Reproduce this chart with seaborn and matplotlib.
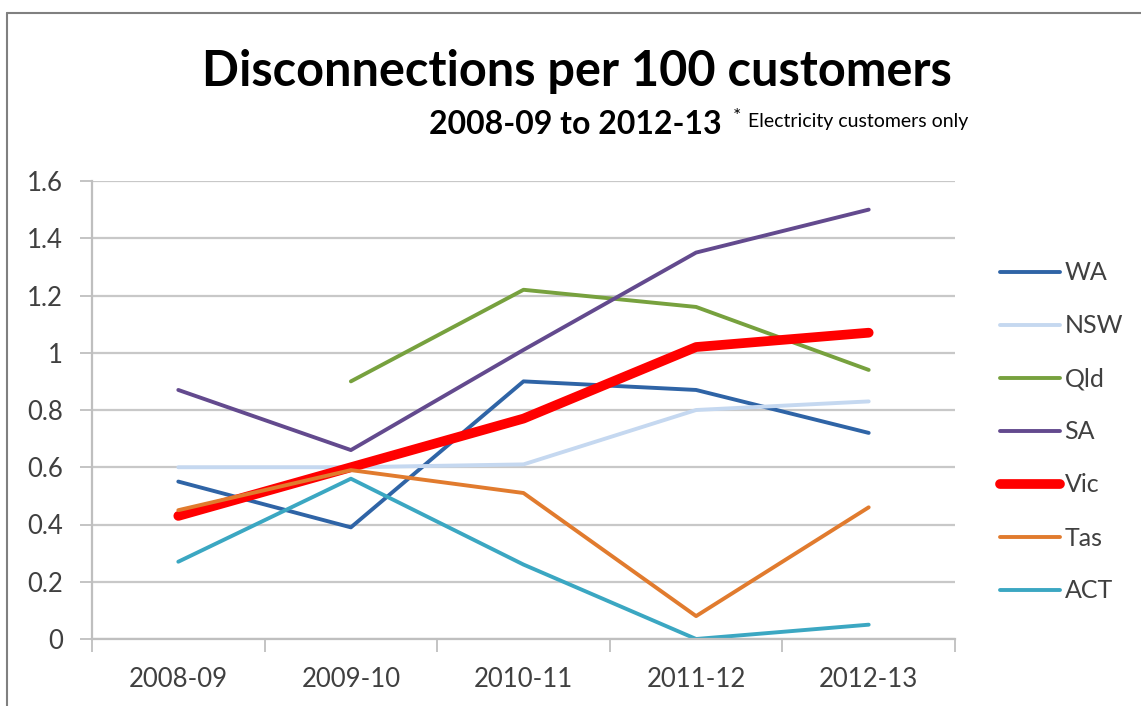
import numpy as np
import pandas as pd
import matplotlib
matplotlib.use("Agg")
import matplotlib.pyplot as plt
from matplotlib.lines import Line2D
import seaborn as sns

years = ["2008-09", "2009-10", "2010-11", "2011-12", "2012-13"]
wa = [0.55, 0.39, 0.90, 0.87, 0.72]
nsw = [0.60, 0.60, 0.61, 0.80, 0.83]
qld = [np.nan, 0.90, 1.22, 1.16, 0.94]
sa = [0.87, 0.66, 1.01, 1.35, 1.50]
vic = [0.43, 0.60, 0.77, 1.02, 1.07]
tas = [0.45, 0.59, 0.51, 0.08, 0.46]
act = [0.27, 0.56, 0.26, 0.00, 0.05]
states = ["WA", "NSW", "Qld", "SA", "Vic", "Tas", "ACT"]
series = [wa, nsw, qld, sa, vic, tas, act]
yticks = [0, 0.2, 0.4, 0.6, 0.8, 1, 1.2, 1.4, 1.6]
ytick_labels = ["0", "0.2", "0.4", "0.6", "0.8", "1", "1.2", "1.4", "1.6"]

colors = {"WA": "#2F64A6", "NSW": "#C5D8F0", "Qld": "#77A13E", "SA": "#634A8E",
          "Vic": "#FF0000", "Tas": "#E17B2E", "ACT": "#3BA7C2"}
widths = {s: 2.8 for s in states}
widths["Vic"] = 7.0

rows = []
for s, vals in zip(states, series):
    for y, v in zip(years, vals):
        rows.append({"Year": y, "Value": v, "State": s})
df = pd.DataFrame(rows)

sns.set_theme(style="white")
plt.rcParams["font.family"] = ["Lato", "DejaVu Sans"]

fig = plt.figure(figsize=(11.41, 7.06), dpi=100)
ax = fig.add_axes([92 / 1141, 1 - 639 / 706, (955 - 92) / 1141, (639 - 181) / 706])

for s in states:
    sub = df[df["State"] == s].dropna()
    sns.lineplot(data=sub, x="Year", y="Value", ax=ax, color=colors[s],
                 linewidth=widths[s], sort=False, label=s,
                 solid_capstyle="round", solid_joinstyle="round")

ax.set_xlim(-0.5, 4.5)
ax.set_ylim(0, 1.6)
ax.set_yticks(yticks)
ax.set_yticklabels(ytick_labels)
ax.set_xticks(range(len(years)))
ax.set_xticklabels(years)
ax.set_xticks(np.arange(-0.5, 4.6, 1), minor=True)
ax.tick_params(axis="x", which="major", length=0, pad=20, labelsize=18.5, labelcolor="#404040")
ax.tick_params(axis="x", which="minor", length=9, width=1.3, color="#BFBFBF", direction="out", bottom=True)
ax.tick_params(axis="y", which="major", length=9, width=1.3, color="#BFBFBF", direction="out",
               left=True, pad=12, labelsize=18.5, labelcolor="#404040")
ax.set_xlabel("")
ax.set_ylabel("")
ax.grid(axis="y", color="#C8C8C8", linewidth=1.6)
ax.grid(axis="x", visible=False)
for side in ["top", "right"]:
    ax.spines[side].set_visible(False)
for side in ["left", "bottom"]:
    ax.spines[side].set_color("#BFBFBF")
    ax.spines[side].set_linewidth(1.6)

leg = ax.legend(loc="upper left", bbox_to_anchor=(977 / 1141, 1 - 239 / 706),
                bbox_transform=fig.transFigure, frameon=False, fontsize=18,
                handlelength=2.4, handletextpad=0.2, labelspacing=1.2)
for t in leg.get_texts():
    t.set_color("#404040")

fig.text(577 / 1141, 1 - 72 / 706, "Disconnections per 100 customers", ha="center", va="center",
         fontsize=35, fontweight="bold", color="#000000")
fig.text(722 / 1141, 1 - 124 / 706, "2008-09 to 2012-13", ha="right", va="center",
         fontsize=23, fontweight="bold", color="#000000")
fig.text(733 / 1141, 1 - 117 / 706, "*", ha="left", va="center", fontsize=14, color="#000000")
fig.text(748 / 1141, 1 - 122 / 706, "Electricity customers only", ha="left", va="center",
         fontsize=14, color="#000000")

fig.add_artist(Line2D([7 / 1141, 7 / 1141], [0, 1 - 13 / 706], transform=fig.transFigure,
                      color="#808080", linewidth=1.5))
fig.add_artist(Line2D([7 / 1141, 1], [1 - 13 / 706, 1 - 13 / 706], transform=fig.transFigure,
                      color="#808080", linewidth=1.5))

fig.savefig("out.png", dpi=100, facecolor="white")
